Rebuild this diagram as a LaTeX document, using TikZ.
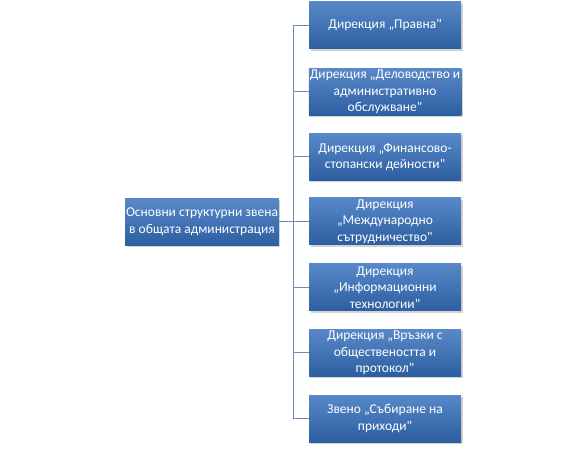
\documentclass[tikz,border=0pt]{standalone}
\usepackage{fontspec}
\newfontfamily\boxfont{Carlito}
\usepackage{xcolor}
\usepackage{tikz}
\usetikzlibrary{positioning, shadows}
\definecolor{unittop}{RGB}{88, 136, 200}
\definecolor{unitbottom}{RGB}{44, 94, 160}
\definecolor{unitline}{RGB}{110, 140, 185}

\begin{document}
\begin{tikzpicture}[x=1pt, y=-1pt,
  unitbox/.style={minimum width=152pt, minimum height=47pt, inner sep=1pt,
    top color=unittop, bottom color=unitbottom, draw=none,
    drop shadow={shadow xshift=1.5pt, shadow yshift=-2pt, opacity=0.35},
    text=white, align=center, font=\boxfont\fontsize{13.5}{16.7}\selectfont},
  link/.style={draw=unitline, line width=1pt}]
  \useasboundingbox (0,0) rectangle (587,449);

  \node[unitbox] (root) at (202,222) {Основни структурни звена\\в общата администрация};

  \node[unitbox] (d1) at (385,25.5) {Дирекция „Правна"};
  \node[unitbox] (d2) at (385,92) {Дирекция „Деловодство и\\административно\\обслужване"};
  \node[unitbox] (d3) at (385,157) {Дирекция „Финансово-\\стопански дейности"};
  \node[unitbox] (d4) at (385,221.5) {Дирекция\\„Международно\\сътрудничество"};
  \node[unitbox] (d5) at (385,287.5) {Дирекция\\„Информационни\\технологии"};
  \node[unitbox] (d6) at (385,353) {Дирекция „Връзки с\\обществеността и\\протокол"};
  \node[unitbox] (d7) at (385,418.5) {Звено „Събиране на\\приходи"};

  % vertical bus
  \coordinate (bus) at (293,0);
  \draw[link] (d1.west -| bus) -- (d7.west -| bus);
  \draw[link] (root.east) -- (root.east -| bus);
  \foreach \i in {1,...,7} {
    \draw[link] (d\i.west -| bus) -- (d\i.west);
  }
\end{tikzpicture}
\end{document}
